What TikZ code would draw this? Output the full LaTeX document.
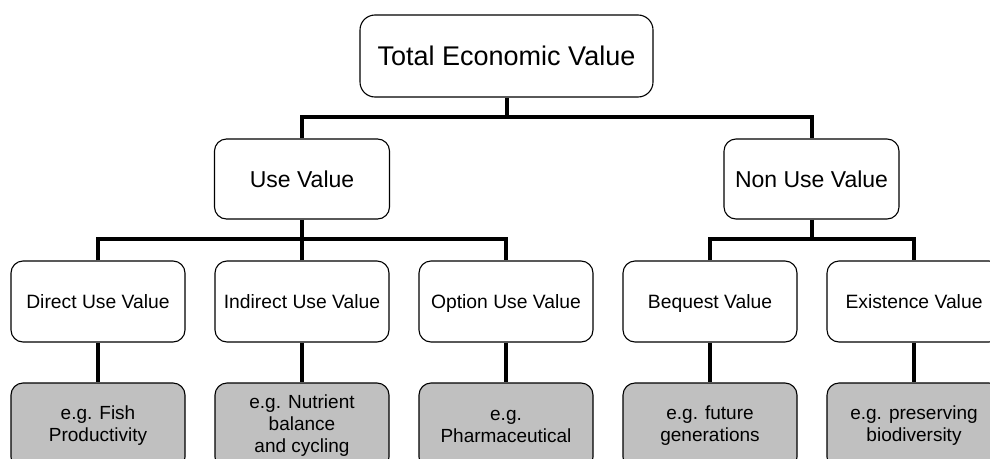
\documentclass[tikz,border=0pt]{standalone}
\usepackage{fontspec}
\setmainfont{Liberation Sans}
\definecolor{boxgray}{HTML}{C0C0C0}
\tikzset{
  box/.style={draw=black, line width=1.1pt, rounded corners=12pt, fill=white, inner sep=0pt, align=center, text depth=0pt},
  topbox/.style={box, text height=19.4pt, minimum width=293pt, minimum height=82pt, rounded corners=15pt, font=\fontsize{27}{31}\selectfont},
  midbox/.style={box, text height=16.6pt, minimum width=175pt, minimum height=80pt, font=\fontsize{23}{27}\selectfont},
  typebox/.style={box, text height=13.9pt, minimum width=174pt, minimum height=81pt, font=\fontsize{19.3}{22}\selectfont},
  egbox/.style={draw=black, line width=1.1pt, rounded corners=12pt, inner sep=0pt, align=center, fill=boxgray, minimum width=174pt, minimum height=86pt, font=\fontsize{19}{22}\selectfont},
  conn/.style={line width=4pt, line join=miter}
}
\begin{document}
\begin{tikzpicture}[x=1pt, y=-1pt]
\useasboundingbox (0,0) rectangle (990,458);
\clip (0,0) rectangle (990,458);
\node[topbox] (tev) at (506.5,56) {Total Economic Value};
\node[midbox] (use) at (302,179) {Use Value};
\node[midbox] (non) at (811.5,179) {Non Use Value};
\node[typebox] (dir) at (98,301.5) {Direct Use Value};
\node[typebox] (ind) at (302,301.5) {Indirect Use Value};
\node[typebox] (opt) at (506,301.5) {Option Use Value};
\node[typebox] (beq) at (710,301.5) {Bequest Value};
\node[typebox] (exi) at (914,301.5) {Existence Value};
\node[egbox] (edir) at (98,426) {e.g. Fish\\Productivity};
\node[egbox] (eind) at (302,426) {e.g. Nutrient\\balance\\and cycling};
\node[egbox] (eopt) at (506,426) {e.g.\\Pharmaceutical};
\node[egbox] (ebeq) at (710,426) {e.g. future\\generations};
\node[egbox] (eexi) at (914,426) {e.g. preserving\\biodiversity};
\coordinate (b1) at (0,117);
\coordinate (b2) at (0,239);
\draw[conn] (tev.south) -- (tev.south |- b1);
\draw[conn] (use.north) -- (use.north |- b1) -- (non.north |- b1) -- (non.north);
\draw[conn] (use.south) -- (use.south |- b2);
\draw[conn] (dir.north) -- (dir.north |- b2) -- (opt.north |- b2) -- (opt.north);
\draw[conn] (ind.north) -- (ind.north |- b2);
\draw[conn] (non.south) -- (non.south |- b2);
\draw[conn] (beq.north) -- (beq.north |- b2) -- (exi.north |- b2) -- (exi.north);
\draw[conn] (dir.south) -- (edir.north);
\draw[conn] (ind.south) -- (eind.north);
\draw[conn] (opt.south) -- (eopt.north);
\draw[conn] (beq.south) -- (ebeq.north);
\draw[conn] (exi.south) -- (eexi.north);
\end{tikzpicture}
\end{document}
